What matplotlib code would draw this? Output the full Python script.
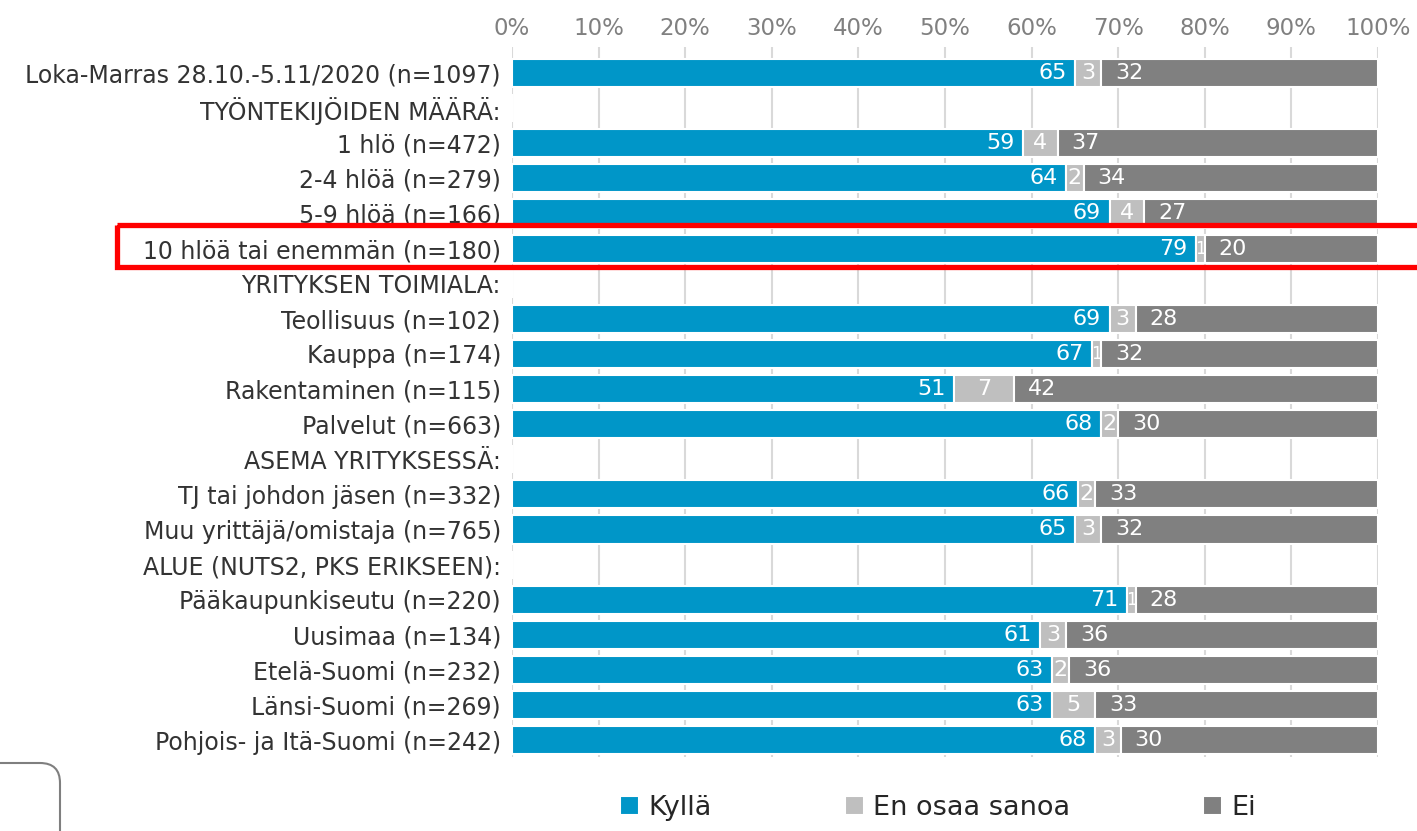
import numpy as np
import matplotlib
matplotlib.use("Agg")
import matplotlib.pyplot as plt
from matplotlib.patches import Rectangle, FancyBboxPatch
from matplotlib.transforms import blended_transform_factory

plt.rcParams['font.family'] = ['DejaVu Sans']

nan = np.nan
labels = ["Loka-Marras 28.10.-5.11/2020 (n=1097)",
          "TYÖNTEKIJÖIDEN MÄÄRÄ:",
          "1 hlö (n=472)",
          "2-4 hlöä (n=279)",
          "5-9 hlöä (n=166)",
          "10 hlöä tai enemmän (n=180)",
          "YRITYKSEN TOIMIALA:",
          "Teollisuus (n=102)",
          "Kauppa (n=174)",
          "Rakentaminen (n=115)",
          "Palvelut (n=663)",
          "ASEMA YRITYKSESSÄ:",
          "TJ tai johdon jäsen (n=332)",
          "Muu yrittäjä/omistaja (n=765)",
          "ALUE (NUTS2, PKS ERIKSEEN):",
          "Pääkaupunkiseutu (n=220)",
          "Uusimaa (n=134)",
          "Etelä-Suomi (n=232)",
          "Länsi-Suomi (n=269)",
          "Pohjois- ja Itä-Suomi (n=242)"]
kylla = [65, nan, 59, 64, 69, 79, nan, 69, 67, 51, 68, nan, 66, 65, nan, 71, 61, 63, 63, 68]
eos = [3, nan, 4, 2, 4, 1, nan, 3, 1, 7, 2, nan, 2, 3, nan, 1, 3, 2, 5, 3]
ei = [32, nan, 37, 34, 27, 20, nan, 28, 32, 42, 30, nan, 33, 32, nan, 28, 36, 36, 33, 30]
series = ["Kyllä", "En osaa sanoa", "Ei"]
highlight = "10 hlöä tai enemmän (n=180)"

colors = ["#0096C8", "#BFBFBF", "#808080"]

fig = plt.figure(figsize=(14.17, 8.31), dpi=100)
ax = fig.add_axes([512/1417, 1-757/831, 866/1417, 710/831])

k = np.array(kylla, float)
e = np.array(eos, float)
i = np.array(ei, float)
tot = k + e + i
shares = [k/tot*100, e/tot*100, i/tot*100]
vals = [k, e, i]
y = np.arange(len(labels))

left = np.zeros(len(labels))
for s, (sh, v) in enumerate(zip(shares, vals)):
    ax.barh(y, np.nan_to_num(sh), left=left, height=0.8, color=colors[s],
            edgecolor="white", linewidth=1.5, label=series[s], zorder=2)
    for j in range(len(labels)):
        if np.isnan(v[j]):
            continue
        if s == 0:
            ax.annotate(f"{v[j]:.0f}", (left[j] + sh[j], y[j]), xytext=(-6, 0),
                        textcoords="offset points", ha="right", va="center",
                        color="white", fontsize=16, zorder=3)
        elif s == 1:
            ax.text(left[j] + sh[j]/2, y[j], f"{v[j]:.0f}", ha="center", va="center",
                    color="white", fontsize=16 if v[j] > 1 else 12, zorder=3)
        else:
            ax.annotate(f"{v[j]:.0f}", (left[j], y[j]), xytext=(10, 0),
                        textcoords="offset points", ha="left", va="center",
                        color="white", fontsize=16, zorder=3)
    left = left + np.nan_to_num(sh)

ax.set_xlim(0, 100)
ax.set_ylim(19.48, -0.741)
ax.set_yticks(y)
ax.set_yticklabels(labels, fontsize=17, color="#333333")
ax.set_xticks(np.arange(0, 101, 10))
ax.set_xticklabels([f"{t}%" for t in range(0, 101, 10)], fontsize=16.5, color="#808080")
ax.xaxis.tick_top()
ax.tick_params(axis="both", length=0)
ax.tick_params(axis="x", pad=5)
ax.tick_params(axis="y", pad=8)
for sp in ax.spines.values():
    sp.set_visible(False)
ax.grid(axis="x", color="#D9D9D9", linewidth=1.5, zorder=0)
ax.set_axisbelow(True)

# red highlight box around one row
hy = labels.index(highlight)
tr = blended_transform_factory(fig.transFigure, ax.transData)
ax.add_patch(Rectangle((117/1417, hy - 0.67), 1.0, 1.2, transform=tr, fill=False,
                       edgecolor="red", linewidth=3.8, clip_on=False, zorder=5))

# rounded frame in bottom-left corner
fig.patches.append(FancyBboxPatch((-1, -1), 1.6, 1.68, boxstyle="round,pad=0,rounding_size=0.2",
                                  transform=fig.dpi_scale_trans, fill=False,
                                  edgecolor="#7f7f7f", linewidth=1.5))

fig.legend(loc="center", bbox_to_anchor=(0.662, 0.028), ncol=3, frameon=False,
           fontsize=19.5, handlelength=0.7, handleheight=0.7, handletextpad=0.35,
           columnspacing=4.9, labelcolor="#262626")

fig.savefig("out.png", dpi=100)
